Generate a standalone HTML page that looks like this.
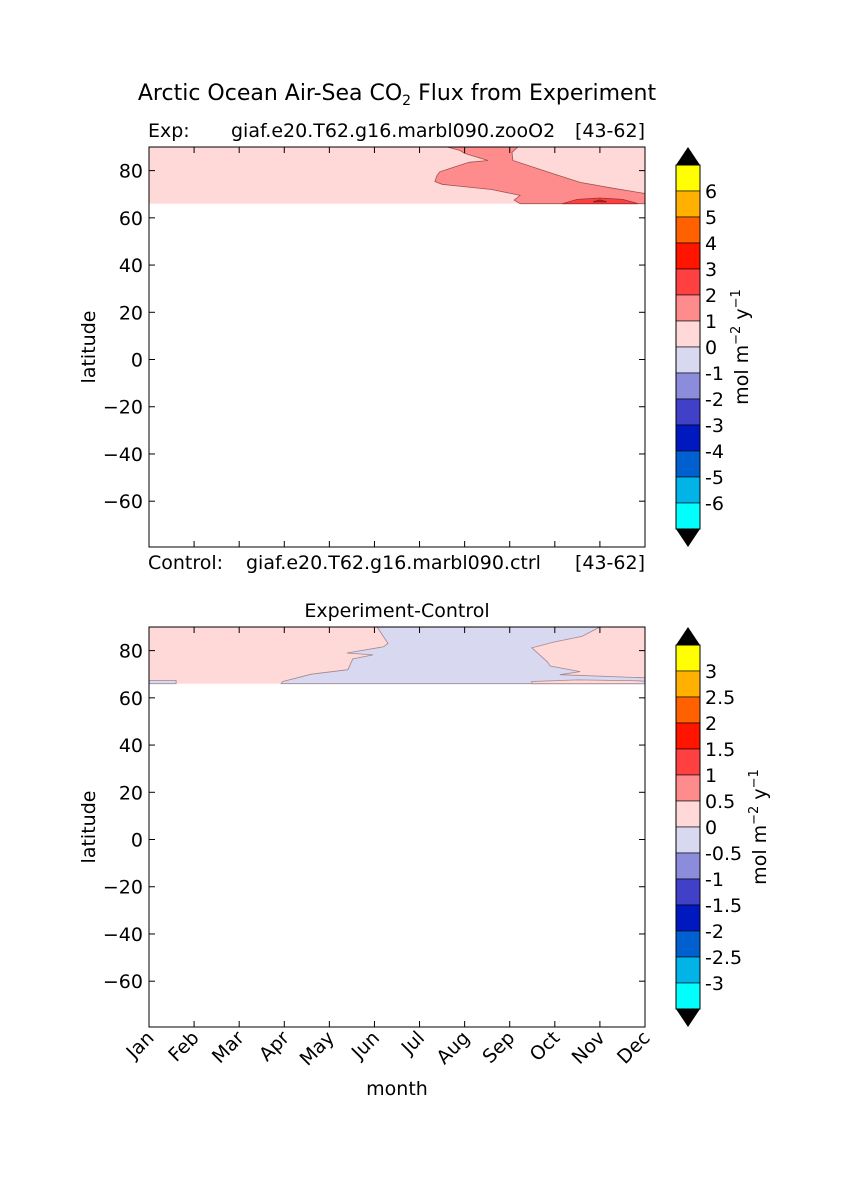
<!DOCTYPE html>
<html><head><meta charset="utf-8"><style>
body{margin:0;background:#fff}
svg{display:block;font-family:"DejaVu Sans","Liberation Sans",sans-serif}
</style></head><body>
<svg id="fig" width="854" height="1179" viewBox="0 0 854 1179">
<rect width="854" height="1179" fill="#fff"/>
<text x="397" y="100" font-size="22" text-anchor="middle">Arctic Ocean Air-Sea CO<tspan font-size="14" dy="5">2</tspan><tspan dy="-5"> Flux from Experiment</tspan></text>
<text x="148" y="137" font-size="19">Exp:</text>
<text x="231" y="137" font-size="19">giaf.e20.T62.g16.marbl090.zooO2</text>
<text x="645" y="137" font-size="19" text-anchor="end">[43-62]</text>
<text x="148" y="569" font-size="19">Control:</text>
<text x="246" y="569" font-size="19">giaf.e20.T62.g16.marbl090.ctrl</text>
<text x="645" y="569" font-size="19" text-anchor="end">[43-62]</text>
<text x="397" y="617" font-size="19" text-anchor="middle">Experiment-Control</text>
<text x="397" y="1095" font-size="19" text-anchor="middle">month</text>
<g id="plots"></g>
</svg>
<script>
// ---------- data ----------
const months=["Jan","Feb","Mar","Apr","May","Jun","Jul","Aug","Sep","Oct","Nov","Dec"];
const latTicks=[80,60,40,20,0,-20,-40,-60];
const topCbarLabels=["6","5","4","3","2","1","0","-1","-2","-3","-4","-5","-6"];
const botCbarLabels=["3","2.5","2","1.5","1","0.5","0","-0.5","-1","-1.5","-2","-2.5","-3"];
const cbarColors=["#ffff00","#ffb000","#ff6000","#ff1400","#ff4040","#ff8c8c","#ffd8d8","#d8d8f0","#8c8cdc","#4040c8","#0018c0","#0060d0","#00b4e8","#00ffff"];
const dataLatMin=66;
// top panel contour regions: [month, latitude]
const topLevel1Months=[7.61,7.9,8.0,8.52,8.1,7.74,7.45,7.39,7.34,7.5,7.74,8.6,9.23,9.1,9.23,12,12,11.3,10.56,10.0,9.07,9.05,9.18];
const topLevel1Lats=[90,88.5,87.3,84.3,83.5,81.3,79.5,78,75.4,74.2,73.7,72,69.5,67.5,66,66,70.3,72.5,75,78.5,84.3,87.7,90];
const topLevel2Months=[10.16,10.5,11.0,11.5,11.85];
const topLevel2Lats=[66,67.8,68.4,67.8,66];
const topLevel3Months=[10.85,11.0,11.15];
const topLevel3Lats=[66.8,67.6,66.8];
// bottom panel negative region
const botNegMonths=[6.06,6.3,6.2,5.39,5.97,5.52,5.41,4.6,3.97,3.93,12,12,10.11,10.56,9.9,9.83,9.49,10.0,10.6,11.0];
const botNegLats=[90,83,81.6,79,78.2,76.5,71.9,70,66.9,66,66,68.5,69.8,71.1,73.5,75.3,81.2,83.7,86,90];
const botPosStripMonths=[9.49,9.49,10.5,11.85,12,12];
const botPosStripLats=[66,66.9,67.6,67.2,67,66];
const botNegStripMonths=[1,1,1.6,1.6];
const botNegStripLats=[66,67.4,67.4,66];

// ---------- drawing ----------
const NS="http://www.w3.org/2000/svg";
const root=document.getElementById('plots');
function mk(tag,attrs,parent){const e=document.createElementNS(NS,tag);for(const k in attrs)e.setAttribute(k,attrs[k]);(parent||root).appendChild(e);return e;}
const X0=149,X1=645;
function xs(m){return X0+(m-1)*(X1-X0)/11;}
function makeY(top){const bottom=top+400;const latMin=-79.4,latMax=90;return lat=>bottom-(lat-latMin)*(400/(latMax-latMin));}

function poly(ms,ls,ys,fill,stroke,g,name){
  const pts=ms.map((m,i)=>xs(m).toFixed(1)+","+ys(ls[i]).toFixed(1)).join(" ");
  const p=mk('polygon',{points:pts,fill:fill,stroke:stroke,'stroke-width':0.8},g);
  
  
}

function panel(top,name,bgColor,drawFn,cbarLabels,showMonths){
  const ys=makeY(top);
  const g=mk('g',{});
  
  
  const band=mk('rect',{x:X0,y:ys(90),width:X1-X0,height:ys(dataLatMin)-ys(90),fill:bgColor},g);
  
  
  drawFn(ys,g);
  const frame=mk('rect',{x:X0,y:top,width:X1-X0,height:400,fill:'none',stroke:'#000','stroke-width':1},g);
  
  
  for(let i=0;i<12;i++){
    const x=xs(i+1);
    mk('line',{x1:x,x2:x,y1:top,y2:top+6,stroke:'#000'},g);
    mk('line',{x1:x,x2:x,y1:top+400,y2:top+394,stroke:'#000'},g);
    if(showMonths){
      const t=mk('text',{x:x+6,y:top+412,'font-size':19,'text-anchor':'end',transform:`rotate(-45 ${x+6} ${top+412})`},g);
      t.textContent=months[i];
      
      
    }
  }
  latTicks.forEach(l=>{
    const y=ys(l);
    mk('line',{x1:X0,x2:X0+6,y1:y,y2:y,stroke:'#000'},g);
    mk('line',{x1:X1,x2:X1-6,y1:y,y2:y,stroke:'#000'},g);
    const t=mk('text',{x:X0-6,y:y+7,'font-size':19,'text-anchor':'end'},g);
    t.textContent=l<0?'\u2212'+(-l):String(l);
    
    
  });
  const yl=mk('text',{x:95,y:top+200,'font-size':19,'text-anchor':'middle',transform:`rotate(-90 95 ${top+200})`},g);
  yl.textContent='latitude';
  
  
  // colorbar
  const cb=mk('g',{},g);
  
  
  const cx0=676,cx1=700,seg=26,r0=top+18;
  const up=mk('polygon',{points:`${cx0},${r0} ${(cx0+cx1)/2},${top} ${cx1},${r0}`,fill:'#000'},cb);
  
  
  cbarColors.forEach((c,i)=>{
    const r=mk('rect',{x:cx0,y:r0+i*seg,width:cx1-cx0,height:seg,fill:c,stroke:'#000','stroke-width':0.6},cb);
    
    
  });
  const rb=r0+cbarColors.length*seg;
  const dn=mk('polygon',{points:`${cx0},${rb} ${(cx0+cx1)/2},${top+400} ${cx1},${rb}`,fill:'#000'},cb);
  
  
  mk('rect',{x:cx0,y:r0,width:cx1-cx0,height:rb-r0,fill:'none',stroke:'#000','stroke-width':1},cb);
  cbarLabels.forEach((s,i)=>{
    const t=mk('text',{x:705,y:r0+(i+1)*seg+7,'font-size':19},cb);
    t.textContent=s;
    
    
  });
  const lx=cbarLabels[1].length>2?766:748, ly=top+200;
  const ul=mk('text',{x:lx,y:ly,'font-size':19,'text-anchor':'middle',transform:`rotate(-90 ${lx} ${ly})`},cb);
  ul.innerHTML='mol m<tspan dy="-8" font-size="13">\u22122</tspan><tspan dy="8">  y</tspan><tspan dy="-8" font-size="13">\u22121</tspan>';
  
  
}

panel(147,'exp-panel','#ffd8d8',(ys,g)=>{
  poly(topLevel1Months,topLevel1Lats,ys,'#ff8c8c','#a05050',g,'contour-1-to-2');
  poly(topLevel2Months,topLevel2Lats,ys,'#ff4040','#a03030',g,'contour-2-to-3');
  poly(topLevel3Months,topLevel3Lats,ys,'#ff1400','#802020',g,'contour-3-to-4');
},topCbarLabels,false);

panel(627,'diff-panel','#ffd8d8',(ys,g)=>{
  poly(botNegMonths,botNegLats,ys,'#d8d8f0','#a08890',g,'contour-negative');
  poly(botPosStripMonths,botPosStripLats,ys,'#ffd8d8','#a08890',g,'contour-positive-strip');
  poly(botNegStripMonths,botNegStripLats,ys,'#d8d8f0','#a08890',g,'contour-negative-strip');
},botCbarLabels,true);
</script>
</body></html>
